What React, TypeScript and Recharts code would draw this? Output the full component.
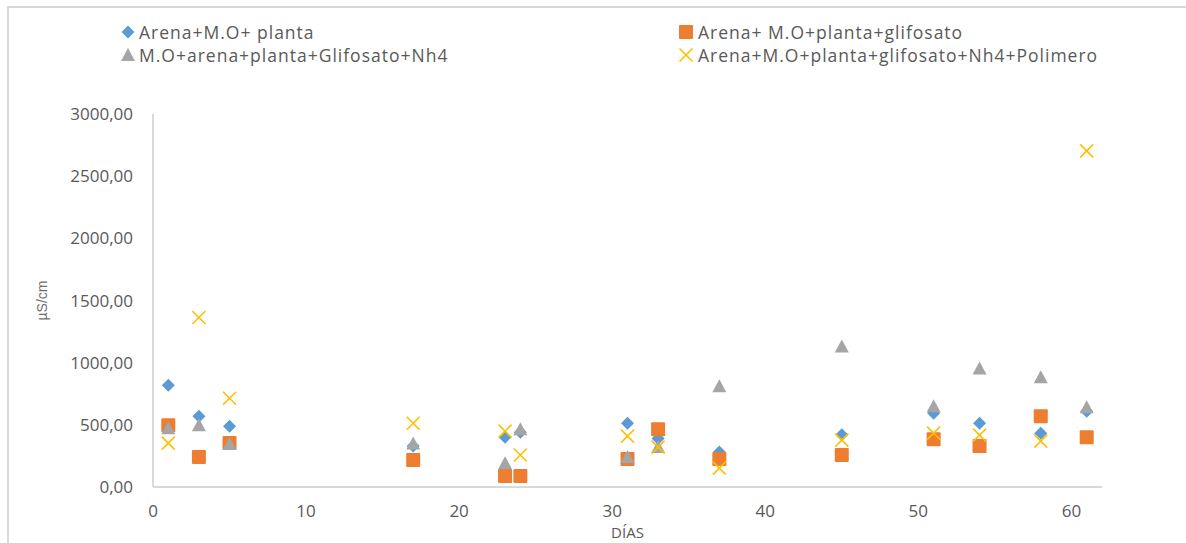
import React from 'react';
import { ScatterChart, Scatter, XAxis, YAxis, Legend } from 'recharts';

const days = [1, 3, 5, 17, 23, 24, 31, 33, 37, 45, 51, 54, 58, 61];
const seriesNames = [
  'Arena+M.O+ planta',
  'Arena+ M.O+planta+glifosato',
  'M.O+arena+planta+Glifosato+Nh4',
  'Arena+M.O+planta+glifosato+Nh4+Polimero',
];
const plantaValues = [818, 569, 489, 330, 401, 441, 513, 390, 281, 420, 594, 513, 433, 610];
const glifosatoValues = [497, 241, 353, 217, 88, 88, 225, 465, 225, 257, 385, 329, 569, 401];
const nh4Values = [473, 497, 345, 350, 192, 465, 241, 321, 810, 1131, 650, 954, 882, 642];
const polimeroValues = [353, 1363, 714, 513, 449, 257, 409, 321, 152, 377, 433, 417, 369, 2703];
const xTicks = [0, 10, 20, 30, 40, 50, 60];
const yTicks = [0, 500, 1000, 1500, 2000, 2500, 3000];
const colors = ['#5B9BD5', '#ED7D31', '#A5A5A5', '#FFC000'];

const toPoints = (vals: number[]) => days.map((d, i) => ({ x: d, y: vals[i] }));
const seriesData = [plantaValues, glifosatoValues, nh4Values, polimeroValues].map(toPoints);

const Diamond = (p: any) => {
  const { cx, cy } = p;
  const r = 6.5;
  return <path d={`M${cx},${cy - r}L${cx + r},${cy}L${cx},${cy + r}L${cx - r},${cy}Z`} fill={colors[0]} />;
};
const Square = (p: any) => {
  const { cx, cy } = p;
  return <rect x={cx - 7} y={cy - 7} width={14} height={14} rx={1} fill={colors[1]} />;
};
const Triangle = (p: any) => {
  const { cx, cy } = p;
  return <path d={`M${cx},${cy - 7}L${cx + 7},${cy + 6}L${cx - 7},${cy + 6}Z`} fill={colors[2]} />;
};
const Cross = (p: any) => {
  const { cx, cy } = p;
  const r = 6.5;
  return (
    <path
      d={`M${cx - r},${cy - r}L${cx + r},${cy + r}M${cx + r},${cy - r}L${cx - r},${cy + r}`}
      stroke={colors[3]}
      strokeWidth={1.6}
      fill="none"
    />
  );
};
const shapes = [Diamond, Square, Triangle, Cross];

const LegendIcon = ({ i }: { i: number }) => {
  const S = shapes[i];
  return (
    <svg width={16} height={16} style={{ position: 'absolute', left: -8, top: -8, overflow: 'visible' }}>
      <S cx={8} cy={8} />
    </svg>
  );
};

const legendPos = [
  { mx: 128, tx: 139, cy: 32 },
  { mx: 686, tx: 698, cy: 32 },
  { mx: 128, tx: 139, cy: 55 },
  { mx: 686, tx: 698, cy: 55 },
];

const renderLegend = () => (
  <div style={{ position: 'relative', width: 1186, height: 80 }}>
    {seriesNames.map((name, i) => {
      const p = legendPos[i];
      return (
        <React.Fragment key={name}>
          <div style={{ position: 'absolute', left: p.mx, top: p.cy, width: 0, height: 0 }}>
            <LegendIcon i={i} />
          </div>
          <div
            style={{
              position: 'absolute',
              left: p.tx,
              top: p.cy - 10,
              lineHeight: '20px',
              height: 20,
              fontSize: 17.5,
              letterSpacing: '1px',
              fontFamily: '"Open Sans", sans-serif',
              color: '#595959',
              whiteSpace: 'nowrap',
            }}
          >
            {name}
          </div>
        </React.Fragment>
      );
    })}
  </div>
);

const fmt = (v: number) => v.toFixed(2).replace('.', ',');
const tickStyle = { fontFamily: '"Open Sans", sans-serif', fontSize: 17, fill: '#595959' };

export default function App() {
  return (
    <div style={{ position: 'absolute', left: 0, top: 0, width: 1186, height: 543, overflow: 'hidden', background: '#fff' }}>
      <div
        style={{
          position: 'absolute',
          left: 7,
          top: 6,
          width: 1186,
          height: 543,
          borderTop: '2px solid #d9d9d9',
          borderLeft: '2px solid #d9d9d9',
        }}
      />
      <div style={{ position: 'absolute', left: 0, top: 0 }}>
        <ScatterChart width={1186} height={543} margin={{ top: 114, right: 84, bottom: 0, left: 0 }}>
          <XAxis
            type="number"
            dataKey="x"
            domain={[0, 62]}
            ticks={xTicks}
            interval={0}
            allowDataOverflow
            height={56}
            tickLine={false}
            tickSize={0}
            tickMargin={18}
            axisLine={{ stroke: '#d9d9d9', strokeWidth: 2 }}
            tick={tickStyle}
            label={{
              value: 'DÍAS',
              position: 'insideBottom',
              offset: 5,
              style: { fontFamily: '"Open Sans", sans-serif', fontSize: 15, fill: '#595959' },
            }}
          />
          <YAxis
            type="number"
            dataKey="y"
            domain={[0, 3000]}
            ticks={yTicks}
            interval={0}
            width={153}
            tickLine={false}
            tickSize={0}
            tickMargin={20}
            tickFormatter={fmt}
            axisLine={{ stroke: '#d9d9d9', strokeWidth: 2 }}
            tick={tickStyle}
            label={{
              value: 'µS/cm',
              angle: -90,
              position: 'insideLeft',
              offset: 42,
              style: { fontFamily: '"Liberation Sans", Arial, sans-serif', fontSize: 14, fill: '#6f6f6f', textAnchor: 'middle' },
            }}
          />
          <Legend
            verticalAlign="middle"
            align="center"
            content={renderLegend}
            wrapperStyle={{ position: 'absolute', left: 0, top: 0, width: 1186, height: 80 }}
          />
          {seriesData.map((d, i) => (
            <Scatter
              key={seriesNames[i]}
              name={seriesNames[i]}
              data={d}
              fill={colors[i]}
              shape={shapes[i]}
              isAnimationActive={false}
            />
          ))}
        </ScatterChart>
      </div>
    </div>
  );
}
